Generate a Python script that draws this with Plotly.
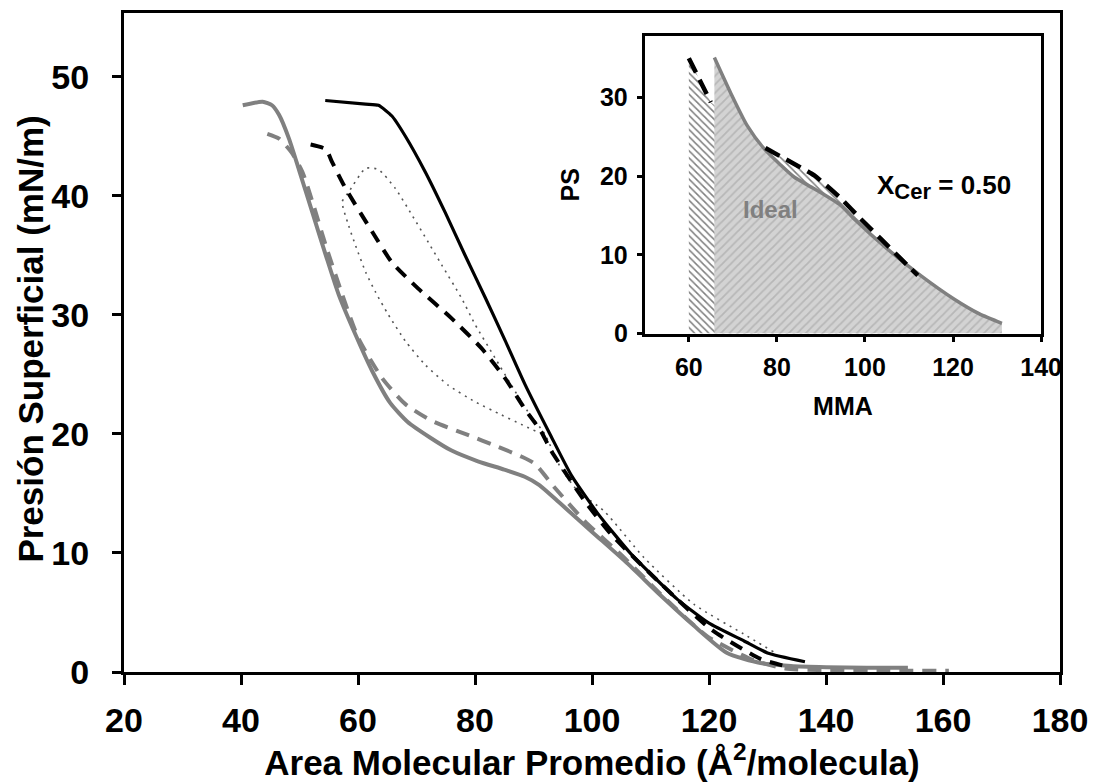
import plotly.graph_objects as go

# --- Main isotherms: surface pressure (mN/m) vs mean molecular area (Å²/molecule) ---
gray_solid_x = [40.3, 43.7, 45.3, 46.5, 48.2, 49.9, 52.2, 54.5, 56.7, 59.6, 62.4, 65.5, 68.5, 72.3,
                76.0, 80.5, 85.0, 88.5, 91.0, 94.7, 100.4, 106.1, 111.8, 117.4, 123.1, 128.8,
                134.0, 140.0, 147.0, 154.0]
gray_solid_y = [47.6, 47.9, 47.6, 46.8, 44.8, 42.2, 38.6, 35.0, 31.7, 28.3, 25.3, 22.6, 21.0, 19.7,
                18.6, 17.7, 17.0, 16.4, 15.7, 14.1, 11.6, 9.1, 6.4, 3.9, 1.6, 0.75,
                0.5, 0.4, 0.35, 0.35]

gray_dash_x = [44.5, 46.5, 48.7, 50.5, 52.2, 54.5, 57.3, 60.1, 64.1, 68.1, 72.6, 78.3, 84.0, 87.9,
               90.2, 93.6, 98.7, 105.5, 111.8, 119.7, 127.6, 133.0, 140.0, 150.0, 161.0]
gray_dash_y = [45.2, 44.8, 43.6, 42.0, 39.5, 35.8, 31.7, 28.0, 24.7, 22.5, 21.1, 20.0, 18.9, 18.1,
               17.5, 15.5, 12.7, 9.6, 6.5, 3.0, 1.0, 0.3, 0.15, 0.1, 0.1]

black_solid_x = [54.4, 61.3, 63.5, 65.8, 68.1, 71.5, 74.9, 78.3, 81.7, 85.1, 88.5, 93.0, 96.5,
                 101.0, 106.7, 114.6, 120.0, 126.0, 130.0, 136.4]
black_solid_y = [48.0, 47.7, 47.6, 46.7, 45.0, 42.0, 38.6, 35.0, 31.5, 27.9, 24.2, 19.8, 16.5,
                 13.3, 9.9, 6.1, 4.1, 2.6, 1.6, 0.86]

black_dash_x = [51.9, 54.5, 55.6, 57.9, 62.4, 65.8, 70.3, 76.0, 81.1, 85.1, 88.5, 91.3, 93.0,
                98.7, 103.2, 111.8, 120.3, 128.8, 133.0]
black_dash_y = [44.3, 43.9, 42.8, 40.6, 37.0, 34.4, 32.2, 29.7, 27.2, 24.7, 22.1, 20.2, 18.6,
                14.4, 11.6, 7.4, 3.6, 1.1, 0.5]

dotted_x = [131.0, 125.9, 117.4, 108.9, 102.1, 97.6, 94.7, 91.9, 89.0, 86.2, 83.4, 80.0, 77.7,
            74.3, 72.0, 69.2, 66.4, 63.5, 61.3, 58.4, 57.3, 58.4, 59.6, 61.3, 63.0, 65.2, 68.1,
            71.5, 75.4, 80.0, 84.5, 87.9, 90.5]
dotted_y = [1.7, 3.2, 5.7, 9.6, 13.5, 15.2, 17.1, 20.0, 21.9, 24.1, 26.4, 29.2, 31.4,
            34.2, 36.1, 38.4, 40.6, 42.2, 42.3, 40.3, 39.5, 37.5, 35.8, 33.6, 31.9, 30.0, 27.8,
            25.8, 24.1, 22.7, 21.6, 20.8, 20.2]

main_xticks = [20, 40, 60, 80, 100, 120, 140, 160, 180]
main_yticks = [0, 10, 20, 30, 40, 50]

# --- Inset: ideal vs experimental isotherm for X_Cer = 0.50 ---
ideal_x = [65.8, 69.5, 73.3, 77.1, 80.9, 83.9, 88.5, 94.5, 97.5, 105.0, 112.6, 120.2, 126.0, 131.1]
ideal_y = [35.1, 30.6, 26.4, 23.5, 21.4, 19.9, 18.4, 16.3, 14.6, 10.8, 7.4, 4.4, 2.5, 1.3]

exp_x = [60.0, 65.0, 77.4, 80.9, 88.5, 94.5, 99.0, 103.5, 109.6, 112.0]
exp_y = [35.0, 29.4, 23.6, 22.5, 20.1, 17.2, 14.6, 12.1, 8.7, 7.4]
exp_break = 2  # segment hidden behind the ideal area

inset_xticks = [60, 80, 100, 120, 140]
inset_yticks = [0, 10, 20, 30]

FONT = "Liberation Sans, Arial, sans-serif"
GRAY = "#808080"

fig = go.Figure()

fig.add_trace(go.Scatter(x=dotted_x, y=dotted_y, mode="lines",
                         line=dict(color="#555555", width=1.6, dash="2px,5px", shape="spline",
                                   smoothing=0.6)))
fig.add_trace(go.Scatter(x=gray_solid_x, y=gray_solid_y, mode="lines",
                         line=dict(color=GRAY, width=4, shape="spline", smoothing=0.6)))
fig.add_trace(go.Scatter(x=gray_dash_x, y=gray_dash_y, mode="lines",
                         line=dict(color=GRAY, width=4, dash="14px,9px", shape="spline",
                                   smoothing=0.6)))
fig.add_trace(go.Scatter(x=black_solid_x, y=black_solid_y, mode="lines",
                         line=dict(color="black", width=3.2, shape="spline", smoothing=0.5)))
fig.add_trace(go.Scatter(x=black_dash_x, y=black_dash_y, mode="lines",
                         line=dict(color="black", width=4, dash="13px,9px", shape="spline",
                                   smoothing=0.6)))

# inset: hatched area under the experimental curve
fig.add_trace(go.Scatter(x=exp_x, y=exp_y, mode="lines", xaxis="x2", yaxis="y2",
                         line=dict(width=0, color="rgba(0,0,0,0)"), fill="tozeroy",
                         fillcolor="white",
                         fillpattern=dict(shape="\\", fgcolor="black", bgcolor="white",
                                          size=5, solidity=0.3)))
# inset: ideal curve with its gray hatched area
fig.add_trace(go.Scatter(x=ideal_x, y=ideal_y, mode="lines", xaxis="x2", yaxis="y2",
                         line=dict(color=GRAY, width=3.5, shape="spline", smoothing=0.6),
                         fill="tozeroy", fillcolor="#d0d0d0",
                         fillpattern=dict(shape="/", fgcolor="#9c9c9c", bgcolor="#d3d3d3",
                                          size=6, solidity=0.3)))
exp_line_x = exp_x[:exp_break] + [None] + exp_x[exp_break:]
exp_line_y = exp_y[:exp_break] + [None] + exp_y[exp_break:]
fig.add_trace(go.Scatter(x=exp_line_x, y=exp_line_y, mode="lines", xaxis="x2", yaxis="y2",
                         line=dict(color="black", width=4.5, dash="16px,8px", shape="spline",
                                   smoothing=0.5)))

tick_font = dict(family=FONT, size=34, color="black", weight="bold")
title_font = dict(family=FONT, size=35, color="black", weight="bold")
inset_font = dict(family=FONT, size=25, color="black", weight="bold")

fig.update_layout(
    width=1098, height=782,
    margin=dict(l=124, r=34, t=10, b=110),
    paper_bgcolor="white", plot_bgcolor="white",
    showlegend=False,
    xaxis=dict(range=[20, 180], tickvals=main_xticks, ticks="outside", ticklen=10, tickwidth=3,
               tickcolor="black", showline=True, linewidth=3, linecolor="black", mirror=True,
               showgrid=False, zeroline=False, tickfont=tick_font, ticklabelstandoff=6,
               title=dict(text="Area Molecular Promedio (Å<sup>2</sup>/molecula)",
                          font=title_font, standoff=2)),
    yaxis=dict(range=[0, 55.35], tickvals=main_yticks, ticks="outside", ticklen=9, tickwidth=3,
               tickcolor="black", showline=True, linewidth=3, linecolor="black", mirror=True,
               showgrid=False, zeroline=False, tickfont=tick_font, ticklabelstandoff=16),
    xaxis2=dict(domain=[0.5564, 0.9798], anchor="y2", range=[50, 140], tickvals=inset_xticks,
                ticks="outside", ticklen=5, tickwidth=3, tickcolor="black", showline=True,
                linewidth=3, linecolor="black", mirror=True, showgrid=False, zeroline=False,
                tickfont=inset_font, ticklabelstandoff=4,
                title=dict(text="MMA", font=inset_font, standoff=18)),
    yaxis2=dict(domain=[0.5136, 0.9653], anchor="x2", range=[0, 37.85], tickvals=inset_yticks,
                ticks="outside", ticklen=5, tickwidth=3, tickcolor="black", showline=True,
                linewidth=3, linecolor="black", mirror=True, showgrid=False, zeroline=False,
                tickfont=inset_font, ticklabelstandoff=4,
                title=dict(text="PS", font=inset_font, standoff=14)),
    annotations=[
        dict(x=-0.1, y=0.505, xref="paper", yref="paper", text="Presión Superficial (mN/m)",
             textangle=-90, showarrow=False, xanchor="center", yanchor="middle",
             font=title_font),
        dict(x=118.0, y=18.6, xref="x2", yref="y2",
             text="X<sub><span style='font-size:22px'>Cer</span></sub> = 0.50",
             showarrow=False, font=dict(family=FONT, size=26, color="black", weight="bold")),
        dict(x=78.5, y=15.8, xref="x2", yref="y2", text="Ideal", showarrow=False,
             font=dict(family=FONT, size=24, color=GRAY, weight="bold")),
    ],
)

fig.write_html("out.html")
